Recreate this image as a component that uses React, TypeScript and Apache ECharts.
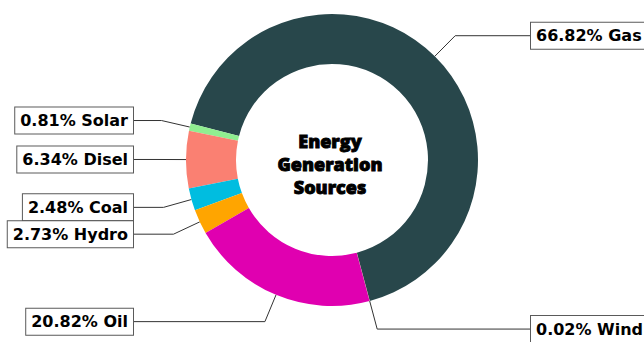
import React, { useEffect, useRef } from "react";
import * as echarts from "echarts";

const sources = ["Gas", "Solar", "Disel", "Coal", "Hydro", "Oil", "Wind"];
const shares = [66.82, 0.81, 6.34, 2.48, 2.73, 20.82, 0.02];
const colors = ["#28474b", "#90ee90", "#fa8072", "#00bde0", "#ffa500", "#e000b0", "#c8a26a"];
const centerTitle = "Energy\nGeneration\nSources";

const CX = 332;
const CY = 160;
const LEFT_EDGE = 133;
const RIGHT_EDGE = 531;

export default function App() {
  const ref = useRef<HTMLDivElement>(null);
  useEffect(() => {
    if (!ref.current) return;
    const chart = echarts.init(ref.current, null, { renderer: "svg" });
    chart.setOption({
      animation: false,
      backgroundColor: "#ffffff",
      graphic: [
        {
          type: "text",
          x: 330,
          y: 164,
          style: {
            text: centerTitle,
            fontFamily: "Open Sans",
            fontWeight: 800,
            fontSize: 18,
            lineHeight: 23,
            fill: "#000",
            stroke: "#000",
            lineWidth: 0.9,
            align: "center",
            verticalAlign: "middle",
          },
        },
      ],
      series: [
        {
          type: "pie",
          center: [CX, CY],
          radius: [96, 146],
          startAngle: 285,
          clockwise: false,
          avoidLabelOverlap: false,
          emphasis: { disabled: true },
          data: sources.map((name, i) => ({
            name,
            value: shares[i],
            itemStyle: { color: colors[i] },
          })),
          label: {
            show: true,
            position: "outside",
            formatter: (p: any) => `${Number(p.value).toFixed(2)}% ${p.name}`,
            fontFamily: "DejaVu Sans",
            fontWeight: "bold",
            fontSize: 16,
            lineHeight: 18,
            color: "#000",
            padding: [4, 5, 4, 5],
            borderColor: "#5a5a5a",
            borderWidth: 1,
            backgroundColor: "#fff",
            distanceToLabelLine: 0,
          },
          labelLine: {
            show: true,
            length: 29,
            length2: 5,
            lineStyle: { color: "#333", width: 1 },
          },
          labelLayout: (params: any) => {
            const pts = params.labelLinePoints;
            const r = params.labelRect;
            const isLeft = pts ? pts[1][0] < CX : r.x + r.width / 2 < CX;
            const edgeX = isLeft ? LEFT_EDGE : RIGHT_EDGE;
            const out: any = {
              x: edgeX,
              align: isLeft ? "right" : "left",
              verticalAlign: "middle",
            };
            if (pts) {
              out.y = pts[1][1];
              out.labelLinePoints = [pts[0], pts[1], [edgeX, pts[1][1]]];
            }
            return out;
          },
        },
      ],
    });
    return () => chart.dispose();
  }, []);
  return (
    <div
      ref={ref}
      style={{ position: "fixed", left: 0, top: 0, width: 644, height: 342 }}
    />
  );
}
